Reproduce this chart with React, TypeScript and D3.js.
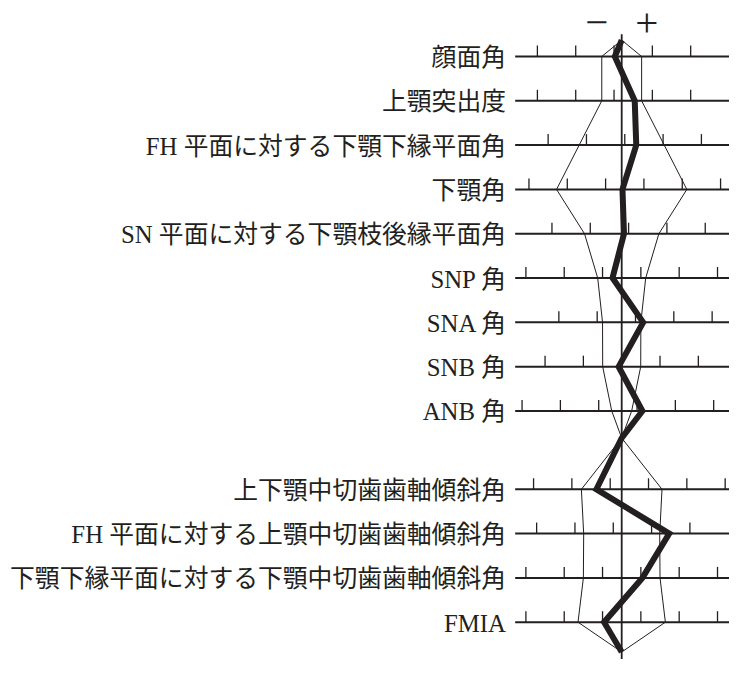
import React from "react";
import * as d3 from "d3";

const labels = [
  "顔面角",
  "上顎突出度",
  "FH 平面に対する下顎下縁平面角",
  "下顎角",
  "SN 平面に対する下顎枝後縁平面角",
  "SNP 角",
  "SNA 角",
  "SNB 角",
  "ANB 角",
  "上下顎中切歯歯軸傾斜角",
  "FH 平面に対する上顎中切歯歯軸傾斜角",
  "下顎下縁平面に対する下顎中切歯歯軸傾斜角",
  "FMIA",
];
const groups = [1, 1, 1, 1, 1, 1, 1, 1, 1, 2, 2, 2, 2];
const means = [86.0, 6.0, 29.6, 122.1, 89.1, 77.5, 83.2, 80.0, 3.0, 126.5, 111.1, 92.5, 57.5];
const sds = [2.6, 2.6, 5.55, 8.5, 4.85, 3.13, 2.5, 2.48, 1.3, 5.26, 4.96, 5.0, 5.7];
const patient = [85.1, 7.7, 31.5, 122.2, 89.4, 76.3, 86.0, 79.6, 5.7, 123.2, 117.3, 95.2, 55.2];
const tickStep = 5;
const signLabels = ["−", "+"];

const W = 742;
const H = 673;
const INK = "#231f20";
const FONT = "'Liberation Serif', 'DejaVu Serif', 'Noto Sans CJK JP', serif";

export default function App() {
  // row slots: second group shifted by a gap
  const slots = groups.map((g, i) => (g === 1 ? i : i + 0.767));
  const y = d3.scaleLinear().domain([0, 12.767]).range([56.5, 622.2]);
  const x = d3.scaleLinear().domain([-14, 14]).range([514.4, 729.0]);

  const apexTop = -0.37;
  const apexMid = 8.61;
  const apexBot = 13.44;

  type P = [number, number];
  const build = (devs: number[]): P[] => {
    const pts: P[] = [[0, apexTop]];
    devs.forEach((d, i) => {
      if (i === 9) pts.push([0, apexMid]);
      pts.push([d, slots[i]]);
    });
    pts.push([0, apexBot]);
    return pts;
  };

  const line = d3
    .line<P>()
    .x((p) => x(p[0]))
    .y((p) => y(p[1]));

  const patientDev = patient.map((v, i) => v - means[i]);
  const leftBand = sds.map((s) => -s);
  const rightBand = sds.map((s) => s);

  return (
    <svg
      width={W}
      height={H}
      style={{ position: "absolute", left: 0, top: 0, background: "#fff" }}
      fontFamily={FONT}
    >
      <rect width={W} height={H} fill="#fff" />
      {/* sign labels */}
      <text x={x(-3.25)} y={21.5} fontSize={41} fontFamily="'Liberation Serif', serif" textAnchor="middle" dominantBaseline="central" fill={INK}>
        {signLabels[0]}
      </text>
      <text x={x(3.28)} y={21.5} fontSize={41} fontFamily="'Liberation Serif', serif" textAnchor="middle" dominantBaseline="central" fill={INK}>
        {signLabels[1]}
      </text>

      {/* rows */}
      {labels.map((lab, i) => {
        const yy = y(slots[i]);
        const m = means[i];
        const ticks = d3
          .range(Math.ceil((m - 14) / tickStep) * tickStep, m + 14, tickStep)
          .filter((t) => t - m >= -13.1 && t - m <= 13.7);
        return (
          <g key={i}>
            <text
              x={506}
              y={yy + 1}
              fontSize={24.8}
              textAnchor="end"
              dominantBaseline="central"
              fill={INK}
            >
              {lab}
            </text>
            <line x1={x(-13.9)} x2={x(14)} y1={yy} y2={yy} stroke={INK} strokeWidth={2} />
            {ticks.map((t) => (
              <line
                key={t}
                x1={x(t - m)}
                x2={x(t - m)}
                y1={yy - 11}
                y2={yy}
                stroke={INK}
                strokeWidth={1.3}
              />
            ))}
          </g>
        );
      })}

      {/* center line */}
      <line x1={x(0)} x2={x(0)} y1={y(-0.5)} y2={y(13.6)} stroke={INK} strokeWidth={1.8} />

      {/* SD band */}
      <path d={line(build(leftBand)) || ""} fill="none" stroke={INK} strokeWidth={1} />
      <path d={line(build(rightBand)) || ""} fill="none" stroke={INK} strokeWidth={1} />

      {/* patient polygram */}
      <path
        d={line(build(patientDev)) || ""}
        fill="none"
        stroke={INK}
        strokeWidth={6}
        strokeLinejoin="miter"
        strokeMiterlimit={10}
      />
    </svg>
  );
}
